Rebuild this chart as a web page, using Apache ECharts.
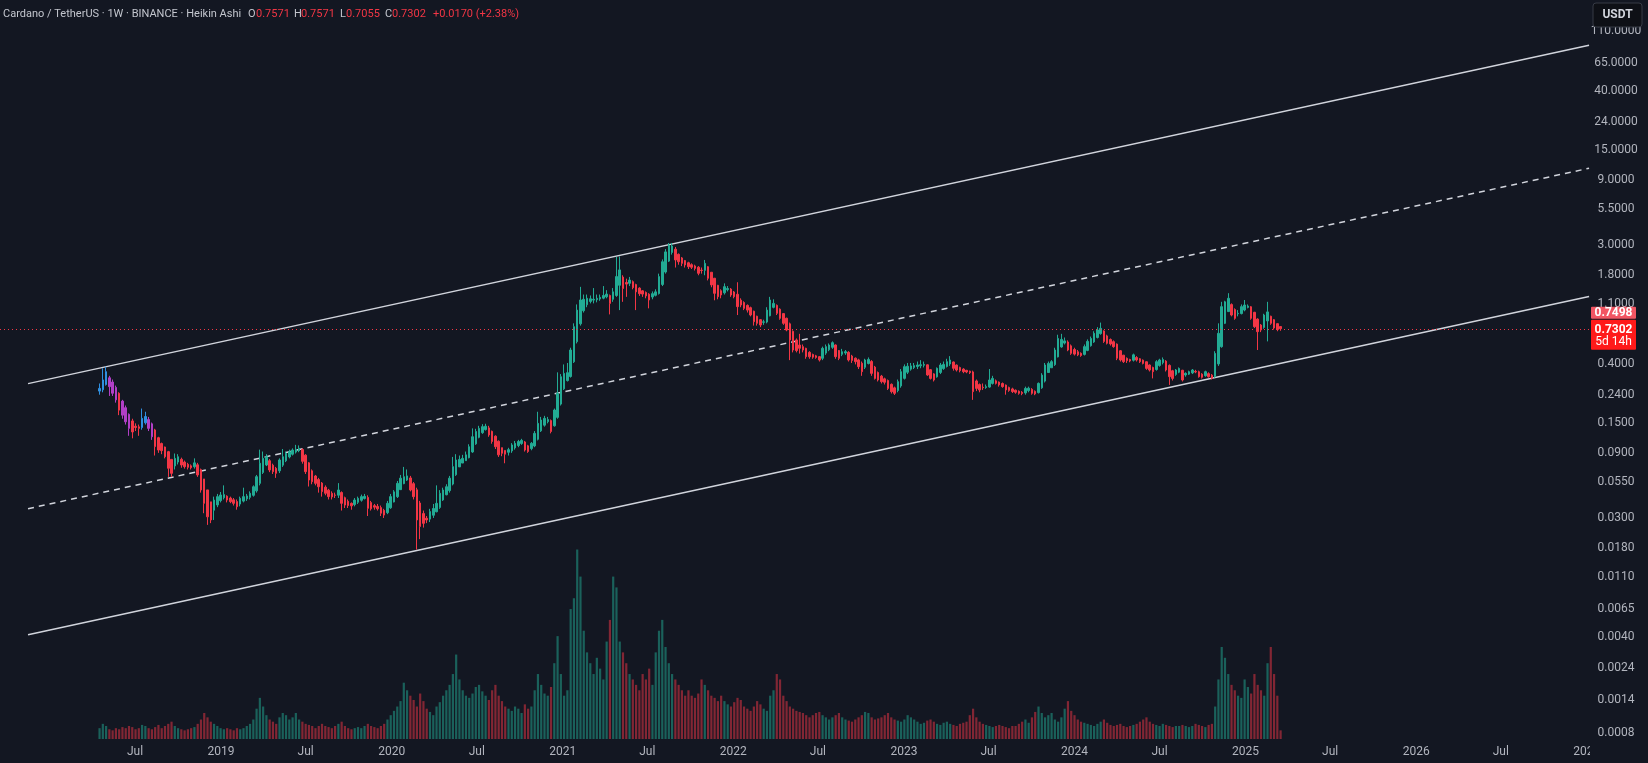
<!DOCTYPE html>
<html><head><meta charset="utf-8">
<script src="https://cdn.jsdelivr.net/npm/echarts@6/dist/echarts.min.js"></script>
<style>html,body{margin:0;padding:0;background:#131722;overflow:hidden}#c{width:1648px;height:763px}</style>
</head><body><div id="c"></div>
<script>
// ---------- DATA (weekly Heikin Ashi, ADA/USDT, Binance) ----------
const startDate = '2018-04-16';
const haOpen0 = 0.255;
const haClose = [
0.267,0.308,0.354,0.275,0.246,0.220,0.185,0.170,0.152,0.136,
0.128,0.138,0.136,0.161,0.166,0.136,0.118,0.100,0.0944,0.0934,
0.0843,0.0694,0.0637,0.082,0.0843,0.0733,0.0713,0.0705,0.070,0.076,
0.062,0.0481,0.0384,0.0306,0.029,0.0406,0.043,0.0442,0.0445,0.0406,
0.0395,0.0384,0.0363,0.0418,0.043,0.0435,0.0455,0.0508,0.0602,0.0755,
0.082,0.0843,0.0674,0.0655,0.0637,0.0798,0.0843,0.0893,0.0918,0.0944,
0.0955,0.097,0.078,0.0655,0.0569,0.0553,0.0538,0.0508,0.0468,0.0455,
0.043,0.0428,0.044,0.0481,0.0384,0.0373,0.037,0.0368,0.0406,0.0418,
0.043,0.0432,0.0353,0.035,0.036,0.035,0.0325,
0.0315,0.0384,0.043,0.0466,0.0538,0.0587,0.0602,0.061,0.0481,0.043,
0.029,0.026,0.0274,0.029,0.0334,0.0352,0.0384,0.0455,0.0481,0.0508,
0.0587,0.0713,0.0798,0.0805,0.082,0.087,0.0998,0.1181,0.129,0.136,
0.140,0.141,0.1217,0.109,0.0998,0.087,0.0893,0.088,0.095,0.1028,
0.1057,0.109,0.111,0.0944,0.092,0.1057,0.125,0.148,0.1566,0.161,
0.158,0.129,0.1854,0.246,0.325,0.344,0.348,0.510,0.756,1.00,
1.186,1.20,1.22,1.21,1.20,1.22,1.24,1.28,1.31,1.12,
1.36,1.76,1.97,1.44,1.55,1.66,1.46,1.36,1.32,1.31,
1.27,1.186,1.32,1.36,1.76,2.26,2.67,3.0,2.95,2.33,
2.26,
2.20,2.14,2.08,2.06,2.02,1.86,1.95,2.20,1.71,1.53,
1.327,1.254,1.29,1.485,1.44,1.29,1.254,1.06,1.09,1.03,
1.00,0.921,0.823,0.80,0.778,0.82,1.00,1.186,1.12,0.947,
0.87,0.80,0.715,0.604,0.510,0.505,0.525,0.51,0.456,0.455,
0.452,0.45,0.431,0.525,0.54,0.555,0.577,0.456,0.443,0.496,
0.496,0.431,0.428,0.419,0.385,0.354,0.431,0.435,0.344,0.316,
0.3076,0.299,0.296,0.267,0.2527,0.2456,0.299,0.354,0.385,0.388,
0.39,0.392,0.396,0.398,0.40,0.3347,0.316,0.3076,0.3745,0.396,
0.40,0.419,0.431,0.3745,0.364,0.36,0.354,0.352,0.348,0.2527,
0.267,0.26,
0.27,0.275,0.3076,0.316,0.2906,0.283,0.275,0.26,0.258,0.253,
0.25,0.2456,0.245,0.267,0.268,0.2456,0.243,0.2906,0.334,0.396,
0.407,0.419,0.51,0.62,0.61,0.595,0.51,0.482,0.476,0.47,
0.465,0.54,0.59,0.62,0.676,0.715,0.735,0.59,0.571,0.565,
0.54,0.444,0.431,0.419,0.426,0.424,0.47,0.431,0.419,0.407,
0.374,0.364,0.354,0.419,0.431,0.434,0.364,0.3254,0.316,0.364,
0.374,0.3076,0.344,0.354,0.364,0.352,0.3254,0.322,0.354,0.325,
0.316,0.482,0.676,1.06,1.15,1.22,0.92,0.87,0.947,1.06,
1.09,1.07,0.87,0.756,0.695,0.715,0.92,0.97,0.80,0.74,
0.72,0.7302];
const haHigh = [
0.29,0.375,0.385,0.33,0.31,0.28,0.25,0.22,0.20,0.175,
0.16,0.148,0.145,0.19,0.18,0.165,0.15,0.135,0.118,0.107,
0.10,0.093,0.08,0.089,0.088,0.083,0.079,0.076,0.074,0.082,
0.076,0.069,0.056,0.044,0.038,0.043,0.045,0.0465,0.052,0.044,
0.043,0.042,0.041,0.043,0.050,0.045,0.047,0.052,0.062,0.095,
0.092,0.088,0.081,0.075,0.071,0.082,0.096,0.092,0.095,0.097,
0.103,0.102,0.097,0.088,0.077,0.068,0.062,0.059,0.055,0.052,
0.049,0.047,0.046,0.054,0.047,0.043,0.041,0.039,0.042,0.043,
0.0445,0.045,0.044,0.040,0.038,0.038,0.037,
0.035,0.040,0.045,0.048,0.056,0.062,0.071,0.068,0.061,0.055,
0.050,0.040,0.034,0.031,0.035,0.038,0.052,0.048,0.050,0.053,
0.061,0.084,0.088,0.086,0.087,0.092,0.104,0.136,0.135,0.142,
0.146,0.147,0.142,0.131,0.121,0.111,0.097,0.093,0.098,0.106,
0.110,0.112,0.114,0.110,0.103,0.108,0.13,0.18,0.165,0.168,
0.165,0.158,0.19,0.35,0.34,0.40,0.41,0.53,0.80,1.10,
1.48,1.30,1.30,1.28,1.45,1.30,1.30,1.50,1.40,1.30,
1.45,2.45,2.47,1.80,1.70,1.75,1.65,1.56,1.47,1.40,
1.37,1.33,1.37,1.42,1.85,2.35,2.8,3.1,3.1,2.9,
2.6,
2.45,2.33,2.26,2.2,2.15,2.10,2.05,2.33,2.10,1.90,
1.72,1.53,1.42,1.57,1.50,1.45,1.38,1.60,1.22,1.16,
1.10,1.06,0.99,0.91,0.86,0.85,1.05,1.25,1.20,1.10,
1.03,0.95,0.88,0.81,0.71,0.62,0.67,0.56,0.53,0.50,
0.48,0.47,0.46,0.54,0.56,0.57,0.59,0.56,0.51,0.52,
0.51,0.50,0.47,0.45,0.44,0.42,0.44,0.45,0.43,0.39,
0.355,0.335,0.32,0.31,0.29,0.275,0.31,0.37,0.40,0.41,
0.41,0.41,0.42,0.43,0.42,0.40,0.37,0.345,0.38,0.41,
0.42,0.44,0.46,0.42,0.40,0.385,0.375,0.365,0.36,0.36,
0.31,0.29,
0.29,0.285,0.37,0.33,0.31,0.30,0.295,0.285,0.275,0.27,
0.262,0.258,0.255,0.275,0.275,0.268,0.258,0.295,0.345,0.41,
0.42,0.43,0.53,0.66,0.67,0.63,0.60,0.56,0.53,0.51,
0.49,0.56,0.61,0.64,0.70,0.75,0.81,0.71,0.66,0.62,
0.60,0.57,0.51,0.47,0.45,0.44,0.48,0.46,0.445,0.435,
0.42,0.40,0.385,0.43,0.44,0.45,0.43,0.40,0.365,0.37,
0.38,0.365,0.35,0.36,0.37,0.365,0.36,0.345,0.36,0.35,
0.34,0.50,0.80,1.15,1.17,1.33,1.12,1.03,1.0,1.10,
1.186,1.10,1.07,0.97,0.87,0.79,0.94,1.15,0.91,0.86,
0.80,0.7571];
const haLow = [
0.24,0.25,0.28,0.235,0.235,0.21,0.17,0.16,0.145,0.12,
0.115,0.13,0.12,0.133,0.145,0.13,0.112,0.086,0.09,0.088,
0.082,0.060,0.060,0.068,0.074,0.07,0.069,0.068,0.068,0.069,
0.060,0.046,0.0325,0.0267,0.0275,0.029,0.036,0.039,0.041,0.039,
0.0385,0.037,0.0345,0.0365,0.039,0.040,0.041,0.043,0.046,0.052,
0.063,0.072,0.065,0.063,0.059,0.064,0.071,0.077,0.082,0.086,
0.089,0.091,0.075,0.063,0.051,0.053,0.052,0.046,0.043,0.044,
0.041,0.041,0.042,0.042,0.034,0.0355,0.0355,0.0345,0.0365,0.038,
0.0395,0.041,0.031,0.034,0.0345,0.034,0.031,
0.030,0.032,0.035,0.039,0.042,0.049,0.053,0.056,0.047,0.041,
0.0176,0.021,0.0255,0.0275,0.028,0.030,0.033,0.035,0.040,0.044,
0.046,0.052,0.061,0.073,0.076,0.079,0.082,0.09,0.103,0.115,
0.124,0.131,0.118,0.105,0.096,0.084,0.085,0.0755,0.086,0.090,
0.095,0.099,0.103,0.092,0.090,0.094,0.099,0.111,0.128,0.14,
0.148,0.125,0.14,0.16,0.20,0.26,0.30,0.32,0.41,0.57,
0.77,0.96,1.05,1.12,1.12,1.14,1.17,1.2,1.22,0.93,
1.15,1.25,1.0,1.15,1.25,1.50,1.42,1.0,1.27,1.25,
1.22,1.03,1.20,1.26,1.30,1.50,1.85,2.25,2.55,2.05,
2.15,
2.10,2.05,2.0,2.0,1.95,1.80,1.85,1.80,1.65,1.47,
1.18,1.20,1.22,1.30,1.37,1.25,1.22,0.92,1.05,1.0,
0.96,0.90,0.77,0.77,0.75,0.78,0.80,0.90,1.03,0.92,
0.85,0.78,0.70,0.43,0.49,0.49,0.48,0.49,0.44,0.44,
0.44,0.44,0.42,0.43,0.47,0.50,0.52,0.44,0.43,0.46,
0.47,0.42,0.41,0.40,0.37,0.33,0.37,0.40,0.33,0.31,
0.30,0.29,0.285,0.26,0.245,0.2388,0.25,0.27,0.31,0.34,
0.36,0.37,0.37,0.375,0.38,0.33,0.31,0.30,0.32,0.34,
0.365,0.38,0.39,0.36,0.355,0.35,0.345,0.345,0.34,0.22,
0.255,0.25,
0.26,0.265,0.27,0.285,0.285,0.275,0.27,0.24,0.252,0.247,
0.244,0.24,0.238,0.24,0.25,0.24,0.238,0.245,0.265,0.295,
0.36,0.38,0.39,0.45,0.53,0.56,0.50,0.47,0.465,0.46,
0.455,0.465,0.50,0.54,0.575,0.62,0.66,0.575,0.56,0.55,
0.53,0.43,0.42,0.41,0.41,0.415,0.42,0.42,0.41,0.40,
0.365,0.355,0.316,0.36,0.385,0.40,0.355,0.283,0.305,0.33,
0.345,0.30,0.325,0.335,0.34,0.345,0.32,0.315,0.325,0.32,
0.31,0.32,0.39,0.53,0.79,0.97,0.90,0.85,0.90,0.93,
0.98,1.03,0.85,0.74,0.51,0.69,0.73,0.59,0.78,0.72,
0.70,0.7055];
// weekly volume (relative units)
const volume = [
10,14,12,9,8,10,9,11,10,12, 11,9,10,13,12,10,9,11,13,10,
12,14,16,12,10,9,8,9,10,11, 14,18,24,20,16,14,12,10,9,10,
9,8,10,9,10,12,14,18,28,38, 30,22,18,16,14,20,24,22,18,20,
24,18,16,14,13,12,10,12,14,12, 11,10,12,14,16,12,10,9,10,11,
10,12,14,12,11,10,12,14,18,22, 26,30,35,52,45,40,36,30,42,35,
28,25,22,30,34,40,45,50,60,78, 55,45,40,38,42,48,50,44,40,36,
45,50,40,35,30,28,26,30,28,24, 32,28,30,45,60,50,42,40,48,70,
95,60,40,45,120,130,175,150,100,80, 70,60,75,65,55,90,110,150,140,90,
80,70,60,55,50,45,60,55,65,50, 80,100,110,85,70,60,55,50,45,40,
45,40,38,42,55,50,45,40,38,35, 40,35,32,30,34,38,36,30,28,26,
30,35,32,28,26,40,45,60,55,40, 35,30,28,26,25,24,22,20,22,24,
25,22,20,18,20,22,24,20,18,17, 16,18,20,22,25,24,20,18,19,20,
22,24,20,18,17,16,18,22,20,18, 16,14,15,17,18,16,14,13,15,16,
14,13,12,14,15,16,22,28,20,16, 14,13,12,11,12,13,12,11,10,12,
12,14,16,18,15,20,25,30,24,20, 22,24,18,16,20,28,35,26,22,18,
16,15,14,13,12,14,16,18,15,13, 12,13,14,12,11,12,13,14,16,18,
20,16,14,13,12,14,13,12,11,12, 12,13,12,11,12,14,13,12,11,13,
14,30,55,85,75,60,50,45,40,38, 55,48,42,60,50,45,40,70,85,60,
40,8];
const priceTicks = [110,65,40,24,15,9,5.5,3,1.8,1.1,0.4,0.24,0.15,0.09,0.055,0.03,0.018,0.011,0.0065,0.004,0.0024,0.0014,0.0008];
const timeTicks = ['2018-07-01','2019-01-01','2019-07-01','2020-01-01','2020-07-01','2021-01-01','2021-07-01','2022-01-01','2022-07-01','2023-01-01','2023-07-01','2024-01-01','2024-07-01','2025-01-01','2025-07-01','2026-01-01','2026-07-01','2027-01-01'];
const channelUpper = [['2017-11-14',0.2893],['2027-01-06',87.25]];
const channelMid   = [['2017-11-14',0.03508],['2027-01-06',10.95]];
const channelLower = [['2017-11-14',0.00418],['2027-01-06',1.26]];
const lastClose = 0.7302, realPrice = 0.7498, countdown = '5d 14h';
const header = {name:'Cardano / TetherUS · 1W · BINANCE · Heikin Ashi', O:'0.7571', H:'0.7571', L:'0.7055', C:'0.7302', chg:'+0.0170 (+2.38%)'};

// ---------- BUILD ----------
const UP='#22ab94', DOWN='#f23645', BLUE='#2f8fe0', PURPLE='#b23fc7';
const special = {0:BLUE,1:BLUE,2:BLUE,3:PURPLE,4:PURPLE,5:PURPLE,7:PURPLE,8:PURPLE,9:PURPLE,13:BLUE,14:BLUE,15:PURPLE,16:PURPLE};
const DAY = 86400000, ms = s => Date.parse(s + 'T00:00:00Z'), lg = Math.log10;
const t0 = ms(startDate);
const times = haClose.map((_, i) => t0 + i * 7 * DAY);
const opens = [];
haClose.forEach((c, i) => opens.push(i === 0 ? haOpen0 : (opens[i-1] + haClose[i-1]) / 2));
const candles = haClose.map((c, i) => {
  const o = opens[i], hi = Math.max(haHigh[i], o, c), lo = Math.min(haLow[i], o, c);
  const col = special[i] || (c >= o ? UP : DOWN);
  return {value: [times[i], lg(o), lg(c), lg(lo), lg(hi)],
          itemStyle: {color: col, color0: col, borderColor: col, borderColor0: col}};
});
const vols = volume.map((v, i) => ({value: [times[i], v],
  itemStyle: {color: haClose[i] >= opens[i] ? 'rgba(34,171,148,0.5)' : 'rgba(242,54,69,0.5)'}}));
const lineData = arr => arr.map(p => [ms(p[0]), lg(p[1])]);

const FONT = 'Roboto, "Liberation Sans", sans-serif';
const chart = echarts.init(document.getElementById('c'), null, {renderer: 'canvas'});
const Y_MIN = (310.1 - 739) / 136.5, Y_MAX = 310.1 / 136.5;
chart.setOption({
  backgroundColor: '#131722',
  animation: false,
  grid: {left: 0, right: 58, top: 0, bottom: 24},
  xAxis: {type: 'value', min: ms('2017-09-15'), max: ms('2027-01-08'), z: 0,
    axisLine: {show: false}, axisTick: {show: false}, splitLine: {show: false},
    axisLabel: {customValues: timeTicks.map(ms), color: '#b2b5be', fontSize: 12, fontFamily: FONT, margin: 7,
      formatter: v => { const d = new Date(v); return d.getUTCMonth() === 0 ? String(d.getUTCFullYear()) : 'Jul'; }}},
  yAxis: [
    {type: 'value', position: 'right', min: Y_MIN, max: Y_MAX, z: 5,
     axisLine: {show: false}, axisTick: {show: false}, splitLine: {show: false},
     axisLabel: {customValues: priceTicks.map(lg), color: '#b2b5be', fontSize: 12, fontFamily: FONT, align: 'center', margin: 26,
       formatter: v => Math.pow(10, v).toFixed(4)}},
    {type: 'value', min: 0, max: v => v.max * 3.9, show: false}
  ],
  series: [
    {type: 'bar', data: vols, yAxisIndex: 1, barWidth: 2.2, z: 1},
    {type: 'line', data: lineData(channelUpper), symbol: 'none', lineStyle: {color: '#d1d4dc', width: 1.5}, z: 2, silent: true},
    {type: 'line', data: lineData(channelMid), symbol: 'none', lineStyle: {color: '#d1d4dc', width: 1.5, type: [6, 5]}, z: 2, silent: true},
    {type: 'line', data: lineData(channelLower), symbol: 'none', lineStyle: {color: '#d1d4dc', width: 1.5}, z: 2, silent: true},
    {type: 'candlestick', data: candles, encode: {x: 0, y: [1, 2, 3, 4]}, barWidth: 2, z: 3,
     itemStyle: {borderWidth: 1},
     markLine: {symbol: 'none', silent: true, label: {show: false},
       lineStyle: {color: '#f23645', type: [1, 3], width: 1}, data: [{yAxis: lg(lastClose)}]}}
  ]
});

const py = chart.convertToPixel({yAxisIndex: 0}, lg(lastClose));
const TF = '11px ' + FONT;
const txt = (x, y, s, color) => ({type: 'text', x, y, z: 10,
  style: {text: s, fill: color, font: TF, textVerticalAlign: 'middle'}});
const G = '#c3c6ce', R = '#f23645';
chart.setOption({graphic: [
  {type: 'rect', shape: {x: 1590, y: 0, width: 58, height: 763}, style: {fill: '#131722'}, z: 2},
  txt(3, 14, header.name, G),
  txt(248, 14, 'O', G), txt(256, 14, header.O, R),
  txt(294, 14, 'H', G), txt(301, 14, header.H, R),
  txt(340, 14, 'L', G), txt(346, 14, header.L, R),
  txt(385, 14, 'C', G), txt(392, 14, header.C, R),
  txt(433, 14, header.chg, R),
  {type: 'rect', shape: {x: 1593, y: 3, width: 49, height: 24, r: 3}, style: {fill: '#0e1016', stroke: '#363a45', lineWidth: 1}, z: 20},
  {type: 'text', x: 1617.5, y: 15, z: 21, style: {text: 'USDT', fill: '#d1d4dc', font: 'bold 12px ' + FONT, textAlign: 'center', textVerticalAlign: 'middle'}},
  {type: 'rect', shape: {x: 1591, y: py - 22, width: 45, height: 12, r: 1}, style: {fill: '#f25563'}, z: 20},
  {type: 'text', x: 1613.5, y: py - 16, z: 21, style: {text: realPrice.toFixed(4), fill: '#ffffff', font: 'bold 12px ' + FONT, textAlign: 'center', textVerticalAlign: 'middle'}},
  {type: 'rect', shape: {x: 1591, y: py - 9, width: 45, height: 30, r: 1}, style: {fill: '#ff1a1a'}, z: 20},
  {type: 'text', x: 1613.5, y: py + 1, z: 21, style: {text: lastClose.toFixed(4), fill: '#ffffff', font: 'bold 12px ' + FONT, textAlign: 'center', textVerticalAlign: 'middle'}},
  {type: 'text', x: 1613.5, y: py + 13, z: 21, style: {text: countdown, fill: '#ffffff', font: '12px ' + FONT, textAlign: 'center', textVerticalAlign: 'middle'}}
]});
</script></body></html>
